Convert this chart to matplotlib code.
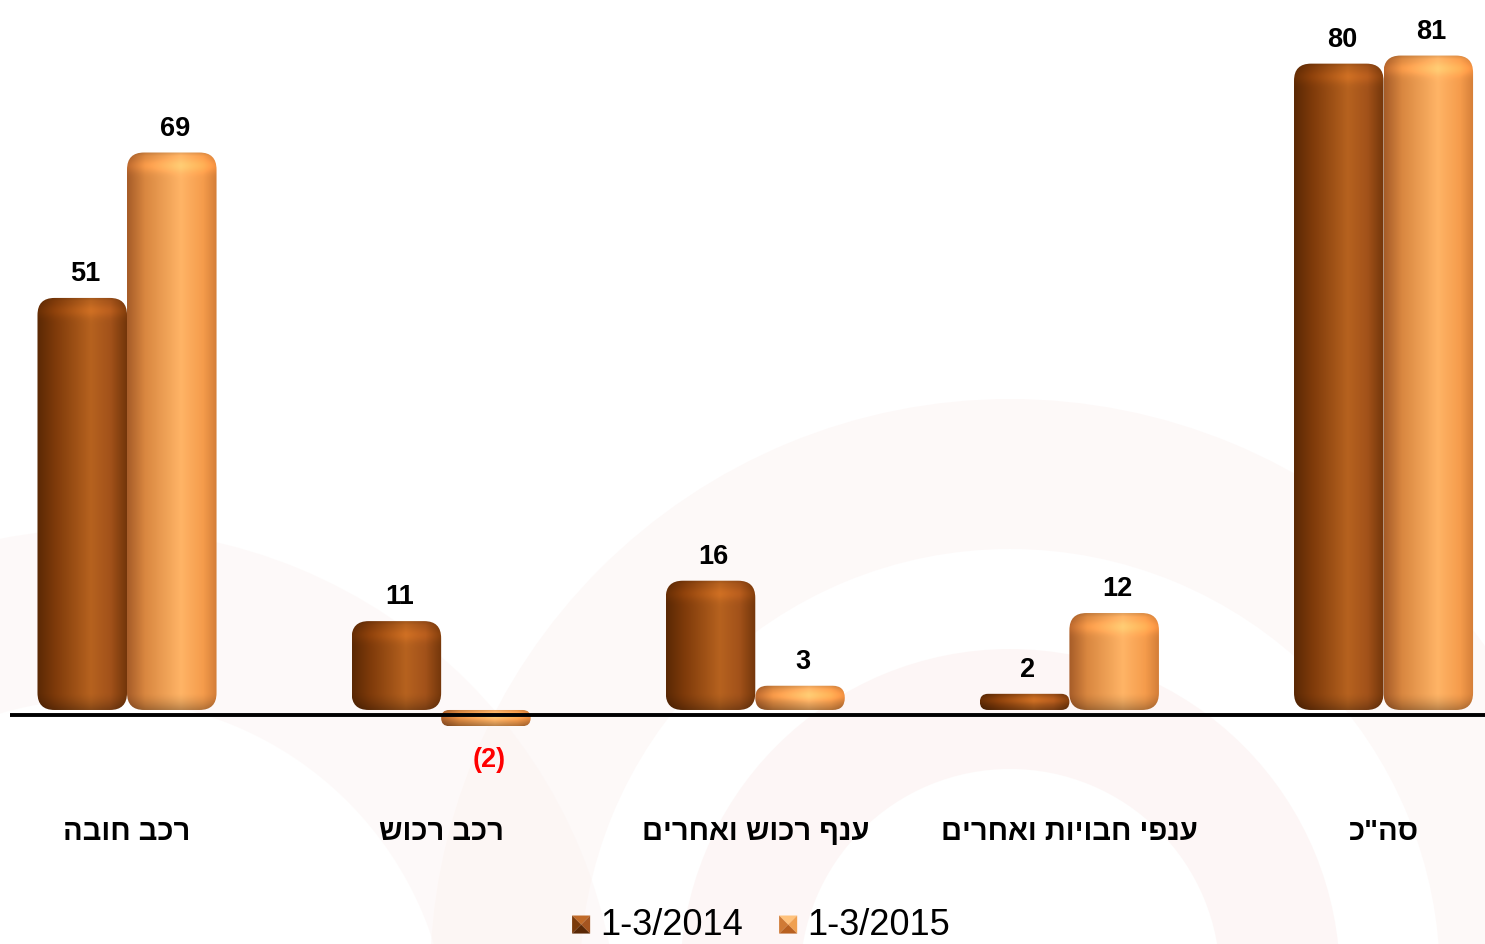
import numpy as np
import matplotlib
matplotlib.use('Agg')
from matplotlib import pyplot as plt
from matplotlib.patches import FancyBboxPatch, Polygon, Patch, Wedge
from matplotlib.legend_handler import HandlerBase
from matplotlib.colors import to_rgb

# data
categories = ['רכב חובה', 'רכב רכוש', 'ענף רכוש ואחרים', 'ענפי חבויות ואחרים', 'סה"כ']
series_names = ['1-3/2014', '1-3/2015']
values_2014 = [51, 11, 16, 2, 80]
values_2015 = [69, -2, 3, 12, 81]

FONT = ['Liberation Sans', 'DejaVu Sans']
DARK_STOPS = [(0.0, '#5a2804'), (0.2, '#7e3a0a'), (0.6, '#b6621f'), (0.82, '#a2521a'), (1.0, '#73360a')]
LIGHT_STOPS = [(0.0, '#a65c28'), (0.2, '#d98740'), (0.6, '#ffb466'), (0.85, '#f59c4c'), (1.0, '#d47e38')]
DARK_PYR = ['#c06a28', '#7a3a0a', '#a55520', '#5a2805']
LIGHT_PYR = ['#ffc27c', '#d07a35', '#f0a050', '#b86020']

XLIM = (-0.3725, 4.323)
YLIM = (-9.78, 88.0)
BAR_W = 0.285


def rtl(s):
    # matplotlib has no bidi, so hebrew goes in visual order
    return s[::-1]


def gradient(stops, n=96):
    pos = [p for p, _ in stops]
    cols = np.array([to_rgb(c) for _, c in stops])
    x = np.linspace(0, 1, n)
    return np.stack([np.interp(x, pos, cols[:, k]) for k in range(3)], axis=1)


def draw_bar(ax, x0, v, stops, sx, sy):
    y0 = min(0, v)
    h = abs(v)
    h_px = h * sy
    r_px = min(17, h_px / 2)
    patch = FancyBboxPatch((x0, y0), BAR_W, h,
                           boxstyle='round,pad=0,rounding_size={}'.format(r_px / sx),
                           mutation_aspect=sx / sy, facecolor='none', edgecolor='none')
    ax.add_patch(patch)
    row = gradient(stops)
    n = max(int(h_px), 4)
    t = np.arange(n) + 0.5
    shade = 1 + 0.14 * np.exp(-((t - 0.8 * r_px) / (0.4 * r_px + 1e-9)) ** 2)
    shade -= 0.12 * np.clip(1 - t / 4, 0, 1)
    shade -= 0.28 * np.clip((t - (n - r_px)) / max(r_px, 1), 0, 1) ** 1.5
    img = np.clip(row[None, :, :] * shade[:, None, None], 0, 1)
    im = ax.imshow(img, extent=[x0, x0 + BAR_W, y0, y0 + h], origin='upper',
                   aspect='auto', interpolation='bilinear', zorder=2)
    im.set_clip_path(patch)


class PyramidHandler(HandlerBase):
    def __init__(self, colors):
        super().__init__()
        self.colors = colors

    def create_artists(self, legend, orig_handle, xdescent, ydescent, width, height, fontsize, trans):
        s = min(width, height)
        x0 = -xdescent + (width - s) / 2
        y0 = -ydescent + (height - s) / 2 - 0.18 * s
        c = (x0 + s / 2, y0 + s / 2)
        a, b, d, e = (x0, y0 + s), (x0 + s, y0 + s), (x0 + s, y0), (x0, y0)
        tris = [[a, b, c], [a, e, c], [b, d, c], [e, d, c]]
        return [Polygon(p, closed=True, facecolor=col, edgecolor='none', transform=trans)
                for p, col in zip(tris, self.colors)]


def main():
    fig = plt.figure(figsize=(14.85, 9.45), dpi=100)
    fig.patch.set_facecolor('white')

    # faint watermark in the background
    bg = fig.add_axes([0, 0, 1, 1], zorder=-1)
    bg.set_xlim(0, 1485)
    bg.set_ylim(945, 0)
    bg.axis('off')
    bg.add_patch(Wedge((1010, 980), 330, 0, 360, width=120, facecolor='#fcefee', edgecolor='none', alpha=0.5))
    bg.add_patch(Wedge((1010, 980), 580, 0, 360, width=150, facecolor='#fcf0ee', edgecolor='none', alpha=0.4))
    bg.add_patch(Wedge((100, 1050), 520, 0, 360, width=170, facecolor='#fcf2f0', edgecolor='none', alpha=0.4))

    ax = fig.add_axes([10 / 1485, 1 - 790 / 945, 1475 / 1485, 790 / 945])
    ax.axis('off')
    ax.patch.set_alpha(0)
    sx = 1475 / (XLIM[1] - XLIM[0])
    sy = 790 / (YLIM[1] - YLIM[0])

    x = np.arange(len(categories))
    for i in x:
        for v, x0, stops in ((values_2014[i], i - BAR_W, DARK_STOPS), (values_2015[i], i, LIGHT_STOPS)):
            draw_bar(ax, x0, v, stops, sx, sy)
            xc = x0 + BAR_W / 2
            if v >= 0:
                ax.annotate(str(v), xy=(xc, v), xytext=(3, 18), textcoords='offset pixels',
                            ha='center', va='baseline', fontsize=19.5, fontweight='bold',
                            family=FONT, color='black')
            else:
                ax.annotate('({})'.format(abs(v)), xy=(xc, v), xytext=(3, -20), textcoords='offset pixels',
                            ha='center', va='top', fontsize=19.5, fontweight='bold',
                            family=FONT, color='#ff0000')
        ax.text(i, -15.0, rtl(categories[i]), ha='center', va='center', fontsize=21,
                fontweight='bold', family=FONT, clip_on=False)

    ax.axhline(-0.6, color='black', lw=2.8, zorder=3)
    ax.set_xlim(*XLIM)
    ax.set_ylim(*YLIM)

    h1 = Patch(facecolor=DARK_PYR[0])
    h2 = Patch(facecolor=LIGHT_PYR[0])
    fig.legend([h1, h2], series_names, loc='lower center', bbox_to_anchor=(0.5125, 0.002),
               ncol=2, frameon=False, prop={'family': FONT, 'size': 26},
               handlelength=0.5, handleheight=0.5, handletextpad=0.28, columnspacing=1.0,
               borderpad=0, borderaxespad=0,
               handler_map={h1: PyramidHandler(DARK_PYR), h2: PyramidHandler(LIGHT_PYR)})

    fig.savefig('out.png', dpi=100)


if __name__ == '__main__':
    main()
